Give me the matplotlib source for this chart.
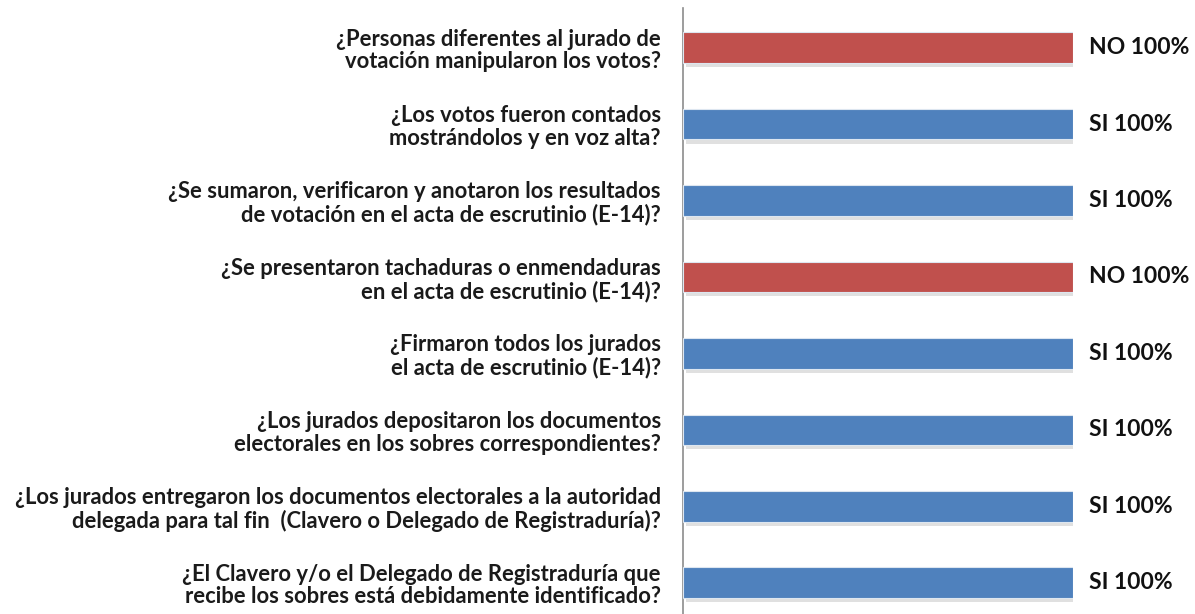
import matplotlib
matplotlib.use("Agg")
import matplotlib.pyplot as plt
import matplotlib.patheffects as pe

categories = [
    "¿Personas diferentes al jurado de\nvotación manipularon los votos?",
    "¿Los votos fueron contados\nmostrándolos y en voz alta?",
    "¿Se sumaron, verificaron y anotaron los resultados\nde votación en el acta de escrutinio (E-14)?",
    "¿Se presentaron tachaduras o enmendaduras\nen el acta de escrutinio (E-14)?",
    "¿Firmaron todos los jurados\nel acta de escrutinio (E-14)?",
    "¿Los jurados depositaron los documentos\nelectorales en los sobres correspondientes?",
    "¿Los jurados entregaron los documentos electorales a la autoridad\ndelegada para tal fin  (Clavero o Delegado de Registraduría)?",
    "¿El Clavero y/o el Delegado de Registraduría que\nrecibe los sobres está debidamente identificado?",
]
answers = ["NO", "SI", "SI", "NO", "SI", "SI", "SI", "SI"]
values = [100, 100, 100, 100, 100, 100, 100, 100]

colors = {"NO": "#C0504D", "SI": "#4F81BD"}

plt.rcParams['font.family'] = ['Lato', 'DejaVu Sans']

fig = plt.figure(figsize=(11.95, 6.14), dpi=100)
ax = fig.add_axes([683/1195, 0.0, (1073-683)/1195, 1 - 8/614])

ypos = list(range(len(categories)))
bars = ax.barh(ypos, values, height=0.40,
               color=[colors[a] for a in answers],
               edgecolor="#dde6f0", linewidth=0.8, zorder=3)
for b in bars:
    b.set_path_effects([pe.SimplePatchShadow(offset=(2, -3), shadow_rgbFace="#999999", alpha=0.3),
                        pe.Normal()])

ax.set_xlim(0, 100)
ax.set_ylim(7.41, -0.52)

for y, v, a in zip(ypos, values, answers):
    ax.text(v + 4, y, f"{a} {v}%", ha="left", va="center",
            fontsize=16.5, fontweight="bold", color="#111111", clip_on=False)

ax.set_yticks(ypos)
ax.set_yticklabels(categories, fontsize=15.8, fontweight="bold", color="#1a1a1a",
                   linespacing=1.1)
ax.tick_params(axis="y", length=0, pad=16)
for lab in ax.get_yticklabels():
    lab.set_horizontalalignment("right")
    lab.set_multialignment("right")
ax.set_xticks([])
for s in ["top", "right", "bottom"]:
    ax.spines[s].set_visible(False)
ax.spines["left"].set_color("#8c8c8c")
ax.spines["left"].set_linewidth(1.2)

fig.savefig("out.png", dpi=100, facecolor="white")
